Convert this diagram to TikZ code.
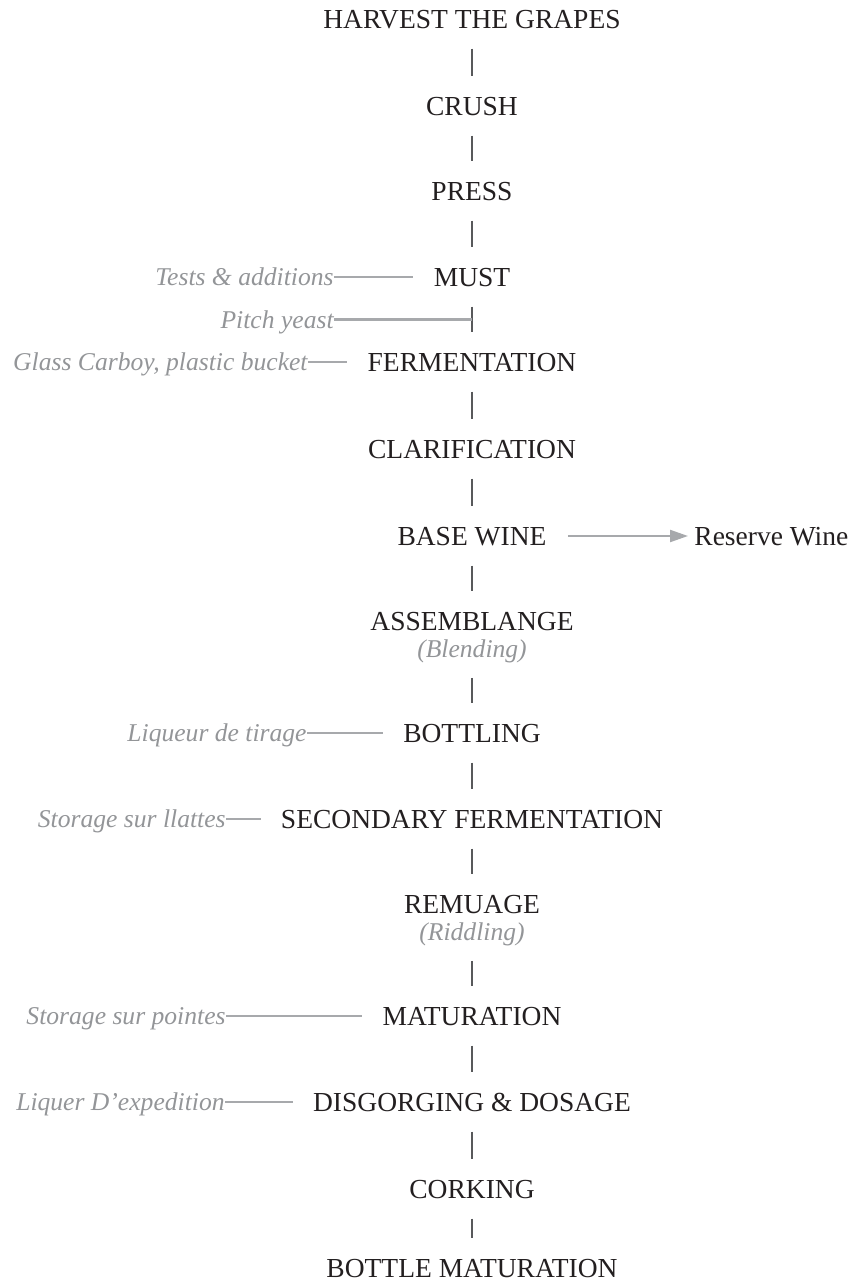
\documentclass[tikz,border=0pt]{standalone}
\usepackage{fontspec}
\setmainfont{Liberation Serif}
\usetikzlibrary{calc,positioning,arrows.meta}
\definecolor{ink}{HTML}{231F20}
\definecolor{soft}{HTML}{939598}
\definecolor{rule}{HTML}{58595B}
\definecolor{faint}{HTML}{A7A9AC}

\begin{document}
\begin{tikzpicture}[x=0.5pt,y=-0.5pt,
  stage/.style={inner sep=0pt,text height=9.2pt,text depth=0pt,text=ink,
    font=\fontsize{13.75}{16}\selectfont},
  note/.style={inner sep=0pt,text height=8.5pt,text depth=0pt,text=soft,
    font=\fontsize{12.8}{15}\selectfont\itshape},
  link/.style={draw=rule,line width=0.9pt,shorten <=10pt,shorten >=10pt},
  side/.style={draw=faint,line width=1.1pt,shorten >=10pt}]
  \useasboundingbox (0,0) rectangle (851,1284);
  % main steps
  \node[stage] (harvest) at (472,19) {HARVEST THE GRAPES};
  \node[stage] (crush) at (472,106) {CRUSH};
  \node[stage] (press) at (472,191) {PRESS};
  \node[stage] (must) at (472,277) {MUST};
  \node[stage] (ferm) at (472,362) {FERMENTATION};
  \node[stage] (clarif) at (472,449) {CLARIFICATION};
  \node[stage] (base) at (472,536) {BASE WINE};
  \node[stage] (assemb) at (472,621) {ASSEMBLANGE};
  \node[note] (blend) at (472,649) {(Blending)};
  \node[stage] (bottling) at (472,733) {BOTTLING};
  \node[stage] (second) at (472,819) {SECONDARY FERMENTATION};
  \node[stage] (remuage) at (472,904) {REMUAGE};
  \node[note] (riddle) at (472,932) {(Riddling)};
  \node[stage] (matur) at (472,1016) {MATURATION};
  \node[stage] (disgorge) at (472,1102) {DISGORGING \& DOSAGE};
  \node[stage] (cork) at (472,1189) {CORKING};
  \node[stage] (bottle) at (472,1268) {BOTTLE MATURATION};
  \node[stage,anchor=west] (reserve) at (694,536) {Reserve Wine};
  % side notes
  \node[note,anchor=east] (tests) at (334,277) {Tests \& additions};
  \node[note,anchor=east] (pitch) at (334,319.5) {Pitch yeast};
  \node[note,anchor=east] (carboy) at (308,362) {Glass Carboy, plastic bucket};
  \node[note,anchor=east] (tirage) at (307,733) {Liqueur de tirage};
  \node[note,anchor=east] (lattes) at (226,819) {Storage sur llattes};
  \node[note,anchor=east] (pointes) at (226,1016) {Storage sur pointes};
  \node[note,anchor=east] (expedition) at (225,1102) {Liquer D’expedition};
  \coordinate (fork) at ($(must)!0.5!(ferm)$);

  \path (harvest) edge[link] (crush) (crush) edge[link] (press);
  \path (press) edge[link] (must) (must) edge[link] (ferm);
  \path (ferm) edge[link] (clarif) (clarif) edge[link] (base);
  \path (base) edge[link] (assemb) (blend) edge[link] (bottling);
  \path (bottling) edge[link] (second) (second) edge[link] (remuage);
  \path (riddle) edge[link] (matur) (matur) edge[link] (disgorge);
  \path (disgorge) edge[link] (cork) (cork) edge[link] (bottle);

  \draw[side] (tests) -- (must);
  \draw[side,shorten >=0pt] (pitch) -- (pitch -| fork);
  \draw[side] (carboy) -- (ferm);
  \draw[side] (tirage) -- (bottling);
  \draw[side] (lattes) -- (second);
  \draw[side] (pointes) -- (matur);
  \draw[side] (expedition) -- (disgorge);
  \draw[side,-{Triangle[length=9pt,width=6pt]},shorten <=10.5pt,shorten >=3pt,
    fill=faint] (base) -- (reserve);
\end{tikzpicture}
\end{document}
